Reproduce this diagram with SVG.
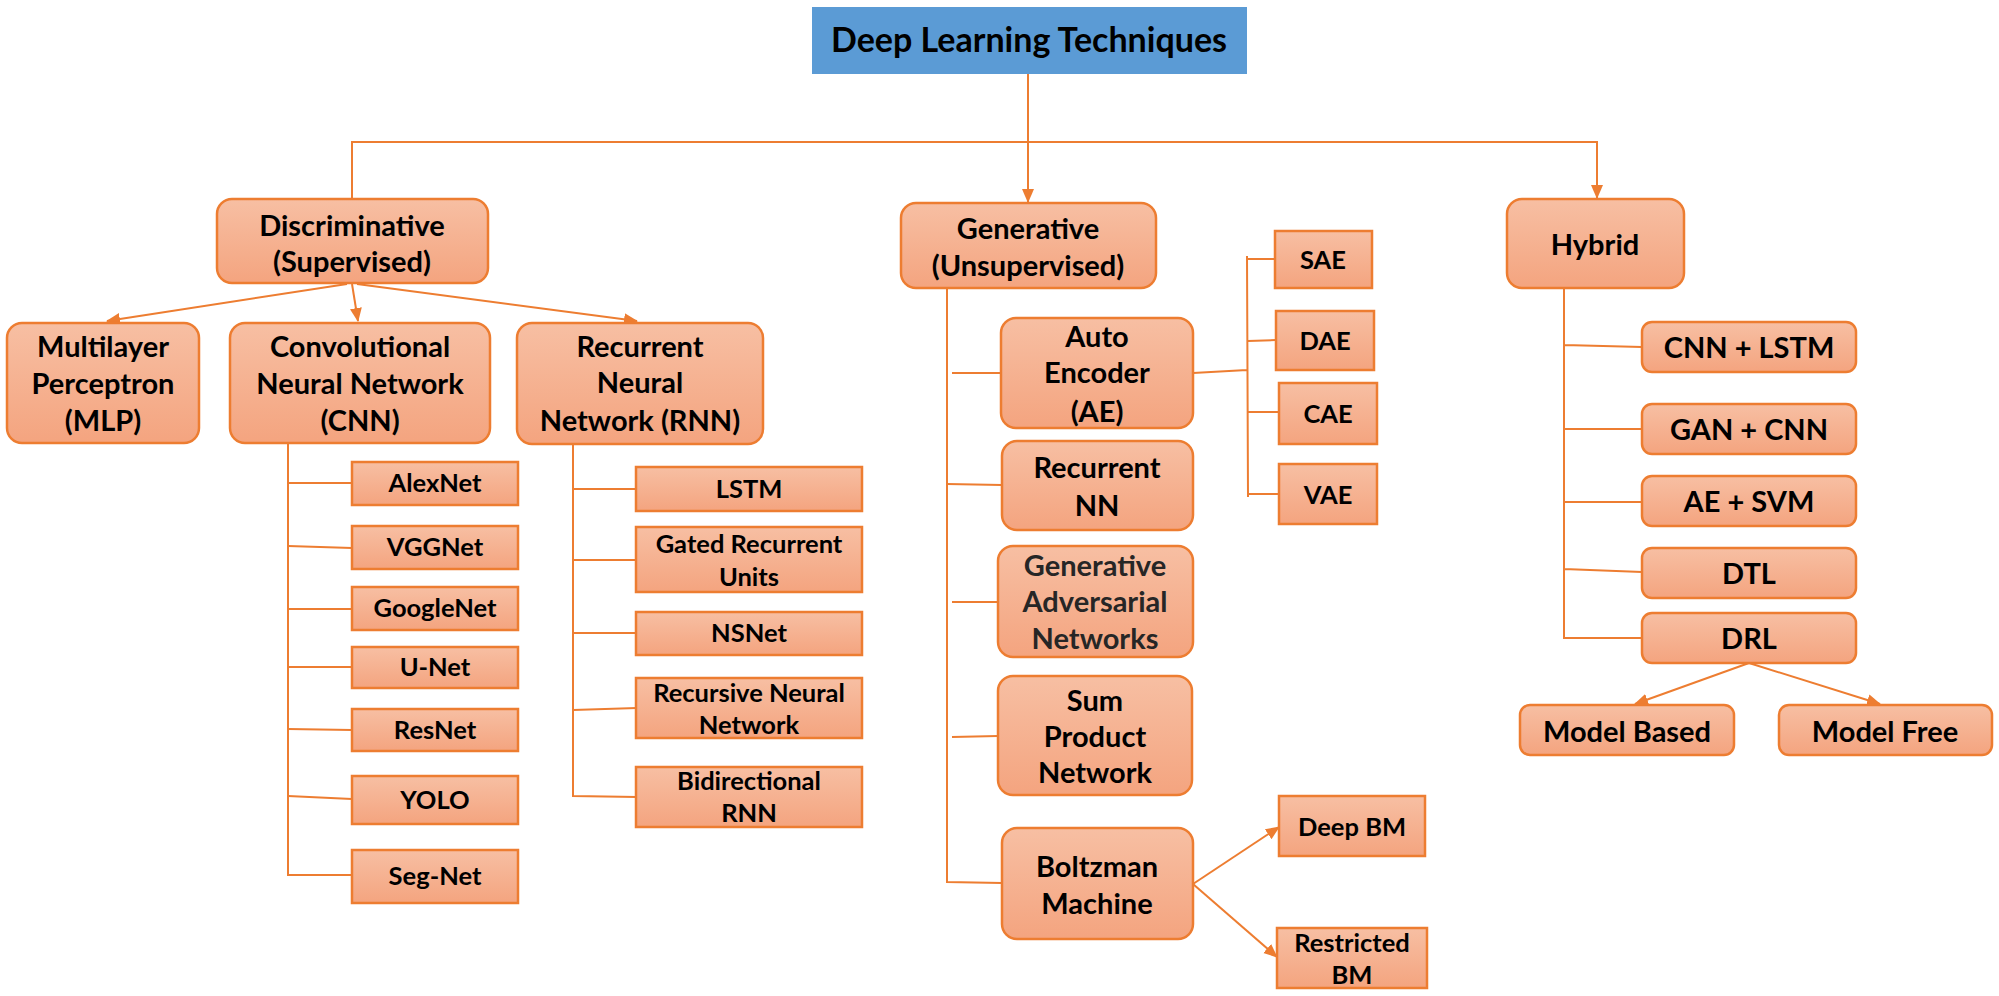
<svg xmlns="http://www.w3.org/2000/svg" width="1999" height="996" viewBox="0 0 1999 996">
<defs>
<linearGradient id="g" x1="0" y1="0" x2="0" y2="1">
<stop offset="0" stop-color="#F7BFA3"/>
<stop offset="1" stop-color="#F4A47F"/>
</linearGradient>
<marker id="ah" markerUnits="userSpaceOnUse" markerWidth="14" markerHeight="14" viewBox="0 0 14 14" refX="13" refY="7" orient="auto">
<path d="M0,1 L14,7 L0,13 Z" fill="#ED7D31"/>
</marker>
<style>
.n rect{fill:url(#g);stroke:#ED7D31;stroke-width:2.5}
.n text{font-family:Lato,"Liberation Sans",sans-serif;font-weight:700;fill:#000;text-anchor:middle}
.b text{font-size:29px}
.s text{font-size:25.5px}
#conn path{stroke:#ED7D31;stroke-width:2;fill:none}
.a{marker-end:url(#ah)}
</style>
</defs>
<rect width="1999" height="996" fill="#fff"/>
<g id="conn">
<path d="M1028,74 V202" class="a"/>
<path d="M352,199 V142 H1597 V198" class="a"/>
<path d="M347,284 L107,321" class="a"/>
<path d="M352,284 L358,321" class="a"/>
<path d="M357,284 L637,321" class="a"/>
<path d="M288,443 V875 H352"/>
<path d="M288,483 H352 M288,546 L352,548 M288,609 H352 M288,667 H352 M288,729 L352,730 M288,796 L352,799"/>
<path d="M573,444 V796 L637,797"/>
<path d="M573,489 H637 M573,560 H636 M573,633 H636 M573,710 L637,708"/>
<path d="M947,288 V882 L1002,883"/>
<path d="M952,373 H1001 M947,484 L1002,485 M952,602 H998 M952,737 L998,736"/>
<path d="M1193,373 L1247,370 M1247,256 L1248,497 M1247,259 H1275 M1248,341 L1276,340 M1248,412 H1279 M1248,494 H1279"/>
<path d="M1193,884 L1279,827" class="a"/>
<path d="M1193,884 L1277,957" class="a"/>
<path d="M1564,288 V638 H1642 M1564,345 L1642,347 M1564,429 H1642 M1564,502 H1642 M1564,569 L1642,572"/>
<path d="M1749,663 L1635,704" class="a"/>
<path d="M1749,663 L1880,704" class="a"/>
</g>
<g id="title">
<rect x="812" y="7" width="435" height="67" fill="#5B9BD5"/>
<text x="1029" y="52" font-family="Lato,'Liberation Sans',sans-serif" font-weight="700" font-size="34" text-anchor="middle" fill="#000">Deep Learning Techniques</text>
</g>
<g id="discriminative" class="n b"><rect x="217" y="199" width="271" height="84" rx="15"/><text x="352" y="236">Discriminative</text><text x="352" y="272">(Supervised)</text></g>
<g id="generative" class="n b"><rect x="901" y="203" width="255" height="85" rx="15"/><text x="1028" y="239">Generative</text><text x="1028" y="276">(Unsupervised)</text></g>
<g id="hybrid" class="n b"><rect x="1507" y="199" width="177" height="89" rx="15"/><text x="1595" y="255">Hybrid</text></g>
<g id="mlp" class="n b"><rect x="7" y="323" width="192" height="120" rx="15"/><text x="103" y="357">Multilayer</text><text x="103" y="394">Perceptron</text><text x="103" y="431">(MLP)</text></g>
<g id="cnn" class="n b"><rect x="230" y="323" width="260" height="120" rx="15"/><text x="360" y="357">Convolutional</text><text x="360" y="394">Neural Network</text><text x="360" y="431">(CNN)</text></g>
<g id="rnn" class="n b"><rect x="517" y="323" width="246" height="121" rx="15"/><text x="640" y="357">Recurrent</text><text x="640" y="393">Neural</text><text x="640" y="431">Network (RNN)</text></g>
<g id="alexnet" class="n s"><rect x="352" y="462" width="166" height="43"/><text x="435" y="492">AlexNet</text></g>
<g id="vggnet" class="n s"><rect x="352" y="526" width="166" height="43"/><text x="435" y="556">VGGNet</text></g>
<g id="googlenet" class="n s"><rect x="352" y="587" width="166" height="43"/><text x="435" y="617">GoogleNet</text></g>
<g id="unet" class="n s"><rect x="352" y="647" width="166" height="41"/><text x="435" y="676">U-Net</text></g>
<g id="resnet" class="n s"><rect x="352" y="709" width="166" height="42"/><text x="435" y="739">ResNet</text></g>
<g id="yolo" class="n s"><rect x="352" y="776" width="166" height="48"/><text x="435" y="809">YOLO</text></g>
<g id="segnet" class="n s"><rect x="352" y="850" width="166" height="53"/><text x="435" y="885">Seg-Net</text></g>
<g id="lstm" class="n s"><rect x="636" y="467" width="226" height="44"/><text x="749" y="498">LSTM</text></g>
<g id="gru" class="n s"><rect x="636" y="527" width="226" height="65"/><text x="749" y="553">Gated Recurrent</text><text x="749" y="586">Units</text></g>
<g id="nsnet" class="n s"><rect x="636" y="612" width="226" height="43"/><text x="749" y="642">NSNet</text></g>
<g id="recursive" class="n s"><rect x="636" y="678" width="226" height="60"/><text x="749" y="702">Recursive Neural</text><text x="749" y="734">Network</text></g>
<g id="birnn" class="n s"><rect x="636" y="767" width="226" height="60"/><text x="749" y="790">Bidirectional</text><text x="749" y="822">RNN</text></g>
<g id="ae" class="n b"><rect x="1001" y="318" width="192" height="110" rx="15"/><text x="1097" y="347">Auto</text><text x="1097" y="383">Encoder</text><text x="1097" y="422">(AE)</text></g>
<g id="recnn" class="n b"><rect x="1002" y="441" width="191" height="89" rx="15"/><text x="1097" y="478">Recurrent</text><text x="1097" y="516">NN</text></g>
<g id="gan" class="n b"><rect x="998" y="546" width="195" height="111" rx="15"/><text x="1095" y="576" style="fill:#262626">Generative</text><text x="1095" y="612" style="fill:#262626">Adversarial</text><text x="1095" y="649" style="fill:#262626">Networks</text></g>
<g id="spn" class="n b"><rect x="998" y="676" width="194" height="119" rx="15"/><text x="1095" y="711">Sum</text><text x="1095" y="747">Product</text><text x="1095" y="783">Network</text></g>
<g id="boltzman" class="n b"><rect x="1002" y="828" width="191" height="111" rx="15"/><text x="1097" y="877">Boltzman</text><text x="1097" y="914">Machine</text></g>
<g id="sae" class="n s"><rect x="1275" y="231" width="97" height="57"/><text x="1323" y="269">SAE</text></g>
<g id="dae" class="n s"><rect x="1276" y="311" width="98" height="59"/><text x="1325" y="350">DAE</text></g>
<g id="cae" class="n s"><rect x="1279" y="383" width="98" height="61"/><text x="1328" y="423">CAE</text></g>
<g id="vae" class="n s"><rect x="1279" y="464" width="98" height="60"/><text x="1328" y="504">VAE</text></g>
<g id="deepbm" class="n s"><rect x="1279" y="796" width="146" height="60"/><text x="1352" y="836">Deep BM</text></g>
<g id="rbm" class="n s"><rect x="1277" y="928" width="150" height="60"/><text x="1352" y="952">Restricted</text><text x="1352" y="984">BM</text></g>
<g id="cnnlstm" class="n b"><rect x="1642" y="322" width="214" height="50" rx="10"/><text x="1749" y="358">CNN + LSTM</text></g>
<g id="gancnn" class="n b"><rect x="1642" y="404" width="214" height="50" rx="10"/><text x="1749" y="440">GAN + CNN</text></g>
<g id="aesvm" class="n b"><rect x="1642" y="476" width="214" height="50" rx="10"/><text x="1749" y="512">AE + SVM</text></g>
<g id="dtl" class="n b"><rect x="1642" y="548" width="214" height="50" rx="10"/><text x="1749" y="584">DTL</text></g>
<g id="drl" class="n b"><rect x="1642" y="613" width="214" height="50" rx="10"/><text x="1749" y="649">DRL</text></g>
<g id="modelbased" class="n b"><rect x="1520" y="705" width="214" height="50" rx="10"/><text x="1627" y="742">Model Based</text></g>
<g id="modelfree" class="n b"><rect x="1779" y="705" width="213" height="50" rx="10"/><text x="1885" y="742">Model Free</text></g>
</svg>
